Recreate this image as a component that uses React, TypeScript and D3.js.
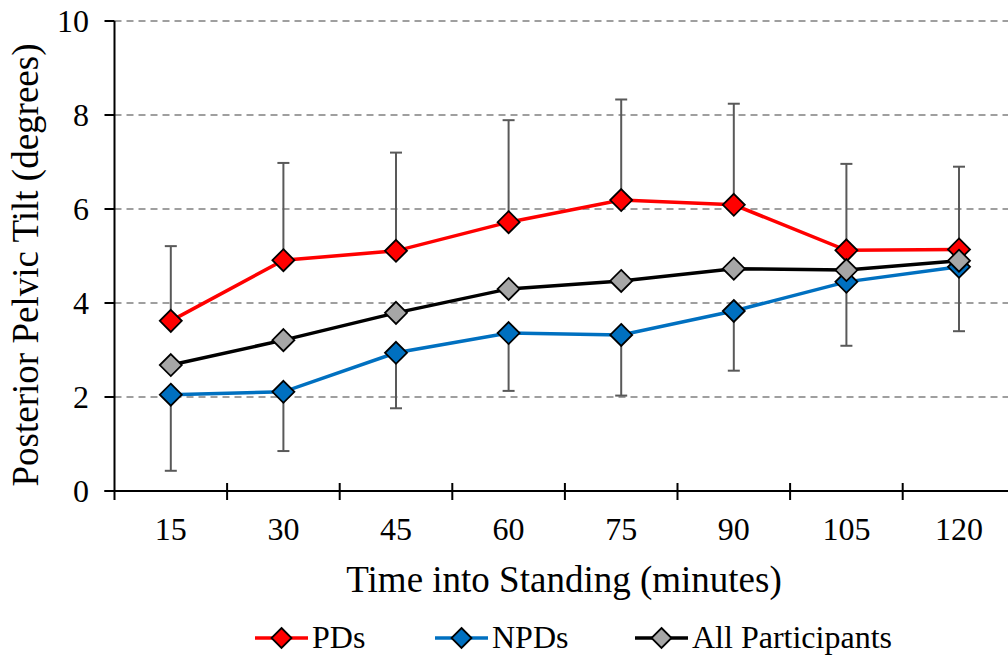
import React from "react";
import * as d3 from "d3";

const categories = ["15", "30", "45", "60", "75", "90", "105", "120"];
const pdMean = [3.62, 4.91, 5.11, 5.72, 6.19, 6.09, 5.12, 5.14];
const pdSD = [1.59, 2.07, 2.09, 2.17, 2.14, 2.15, 1.84, 1.76];
const npdMean = [2.05, 2.11, 2.94, 3.36, 3.32, 3.83, 4.45, 4.77];
const npdSD = [1.62, 1.26, 1.18, 1.23, 1.29, 1.27, 1.36, 1.37];
const allMean = [2.68, 3.21, 3.79, 4.3, 4.47, 4.73, 4.7, 4.9];
const yTicks = [0, 2, 4, 6, 8, 10];
const legendLabels = ["PDs", "NPDs", "All Participants"];

const W = 1008;
const H = 655;
const FONT = "'Liberation Serif', 'Times New Roman', serif";

export default function App() {
  const left = 114.5;
  const top = 21;
  const bottom = 491;
  const x = d3.scaleBand<string>().domain(categories).range([left, left + 8 * 112.6]);
  const y = d3.scaleLinear().domain([0, 10]).range([bottom, top]);
  const cx = (c: string) => (x(c) as number) + x.bandwidth() / 2;

  const line = d3
    .line<number>()
    .x((_, i) => cx(categories[i]))
    .y((d) => y(d));

  const series = [
    { name: legendLabels[0], mean: pdMean, sd: pdSD, dir: 1, stroke: "#FF0000", fill: "#FF0000" },
    { name: legendLabels[1], mean: npdMean, sd: npdSD, dir: -1, stroke: "#0070C0", fill: "#0070C0" },
    { name: legendLabels[2], mean: allMean, sd: null as number[] | null, dir: 0, stroke: "#000000", fill: "#A6A6A6" },
  ];

  const diamond = (px: number, py: number, r: number) =>
    `M${px},${py - r}L${px + r},${py}L${px},${py + r}L${px - r},${py}Z`;

  const legendX = [255, 435, 635];
  const legendY = 638;

  return (
    <svg width={W} height={H} style={{ position: "absolute", left: 0, top: 0, background: "#fff" }}>
      {/* grid */}
      {yTicks.filter((t) => t > 0).map((t) => (
        <line key={t} x1={left} x2={W} y1={y(t)} y2={y(t)} stroke="#808080" strokeWidth={1.5} strokeDasharray="7,5" />
      ))}
      {/* y axis */}
      <line x1={left} x2={left} y1={top} y2={bottom + 9} stroke="#000" strokeWidth={2} />
      {yTicks.map((t) => (
        <g key={t}>
          <line x1={left - 10} x2={left} y1={y(t)} y2={y(t)} stroke="#000" strokeWidth={2} />
          <text x={89} y={y(t)} dy="0.34em" textAnchor="end" fontFamily={FONT} fontSize={32}>
            {t}
          </text>
        </g>
      ))}
      {/* x axis */}
      <line x1={left - 10} x2={W} y1={bottom} y2={bottom} stroke="#000" strokeWidth={2} />
      {categories.map((c) => (
        <line key={c} x1={(x(c) as number) + x.bandwidth()} x2={(x(c) as number) + x.bandwidth()} y1={bottom - 8} y2={bottom + 9} stroke="#000" strokeWidth={2} />
      ))}
      {categories.map((c) => (
        <text key={c} x={cx(c)} y={540} textAnchor="middle" fontFamily={FONT} fontSize={32}>
          {c}
        </text>
      ))}
      <text x={564} y={592} textAnchor="middle" fontFamily={FONT} fontSize={37}>
        Time into Standing (minutes)
      </text>
      <text transform={`translate(38,265) rotate(-90)`} textAnchor="middle" fontFamily={FONT} fontSize={37}>
        Posterior Pelvic Tilt (degrees)
      </text>
      {/* error bars */}
      {series.map((s) =>
        s.sd
          ? s.mean.map((m, i) => {
              const px = cx(categories[i]);
              const end = y(m + s.dir * (s.sd as number[])[i]);
              return (
                <g key={s.name + i}>
                  <line x1={px} x2={px} y1={y(m)} y2={end} stroke="#595959" strokeWidth={2} />
                  <line x1={px - 6} x2={px + 6} y1={end} y2={end} stroke="#595959" strokeWidth={2} />
                </g>
              );
            })
          : null
      )}
      {/* lines and markers */}
      {series.map((s) => (
        <g key={s.name}>
          <path d={line(s.mean) || ""} fill="none" stroke={s.stroke} strokeWidth={3.5} />
          {s.mean.map((m, i) => (
            <path key={i} d={diamond(cx(categories[i]), y(m), 11)} fill={s.fill} stroke="#000" strokeWidth={1.8} />
          ))}
        </g>
      ))}
      {/* legend */}
      {series.map((s, i) => (
        <g key={s.name}>
          <line x1={legendX[i]} x2={legendX[i] + 53} y1={legendY} y2={legendY} stroke={s.stroke} strokeWidth={3.5} />
          <path d={diamond(legendX[i] + 26.5, legendY, 10)} fill={s.fill} stroke="#000" strokeWidth={1.8} />
          <text x={legendX[i] + 57} y={648} fontFamily={FONT} fontSize={32}>
            {s.name}
          </text>
        </g>
      ))}
    </svg>
  );
}
